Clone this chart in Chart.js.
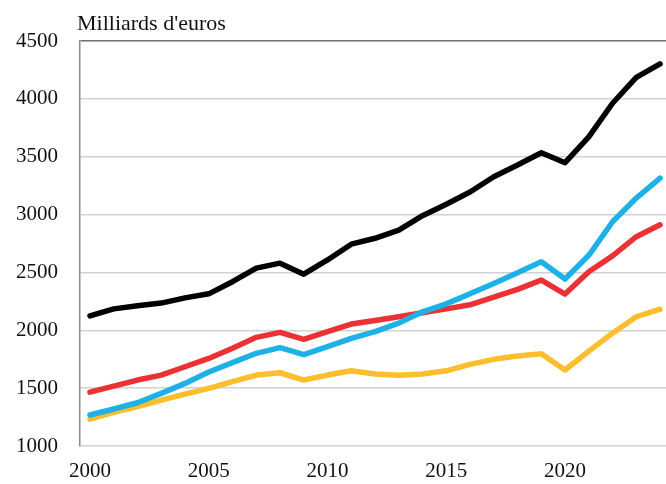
<!DOCTYPE html>
<html>
<head>
<meta charset="utf-8">
<script src="https://cdn.jsdelivr.net/npm/chart.js@4/dist/chart.umd.min.js"></script>
<style>
  html, body { margin: 0; padding: 0; background: #ffffff; }
  #wrap { width: 666px; height: 484px; position: relative; }
</style>
</head>
<body>
<div id="wrap"><canvas id="c" width="666" height="484"></canvas></div>
<script>
const years = [2000,2001,2002,2003,2004,2005,2006,2007,2008,2009,2010,2011,2012,2013,2014,2015,2016,2017,2018,2019,2020,2021,2022,2023,2024];
const blackSeries  = [2125,2185,2212,2235,2280,2315,2420,2537,2580,2485,2608,2744,2795,2866,2990,3090,3195,3327,3428,3534,3448,3672,3962,4185,4302];
const blueSeries   = [1268,1320,1374,1455,1541,1640,1720,1801,1850,1790,1858,1930,1988,2062,2160,2228,2315,2405,2497,2592,2443,2648,2938,3143,3315];
const redSeries    = [1465,1518,1570,1613,1685,1757,1845,1939,1982,1922,1988,2054,2085,2117,2152,2185,2220,2286,2354,2434,2313,2506,2643,2809,2912];
const yellowSeries = [1232,1290,1340,1397,1449,1498,1556,1613,1633,1570,1613,1650,1622,1611,1622,1650,1705,1749,1778,1797,1657,1820,1975,2117,2182];
const yTicks = [1000,1500,2000,2500,3000,3500,4000,4500];
const xTicks = [2000,2005,2010,2015,2020];
const unitLabel = "Milliards d'euros";

const FONT = "'Liberation Serif', 'Times New Roman', serif";

function pts(arr) { return years.map((y, i) => ({ x: y, y: arr[i] })); }
function ds(arr, color) {
  return {
    data: pts(arr), borderColor: color, backgroundColor: color,
    borderWidth: 5.5, pointRadius: 0, tension: 0,
    borderJoinStyle: 'round', borderCapStyle: 'round', fill: false
  };
}

const titlePlugin = {
  id: 'unitTitle',
  afterDraw(chart) {
    const ctx = chart.ctx;
    ctx.save();
    ctx.font = "22px " + FONT;
    ctx.fillStyle = '#111111';
    ctx.textAlign = 'left';
    ctx.textBaseline = 'alphabetic';
    ctx.fillText(unitLabel, chart.chartArea.left - 3, 30);
    ctx.restore();
  }
};

new Chart(document.getElementById('c'), {
  type: 'line',
  data: {
    datasets: [
      ds(blackSeries, '#000000'),
      ds(blueSeries, '#1eb1e7'),
      ds(redSeries, '#eb3133'),
      ds(yellowSeries, '#fcbe2c')
    ]
  },
  options: {
    responsive: false,
    animation: false,
    devicePixelRatio: 1,
    layout: { padding: { left: 14, right: 0, top: 41, bottom: 0 } },
    plugins: { legend: { display: false }, tooltip: { enabled: false }, title: { display: false } },
    scales: {
      x: {
        type: 'linear',
        min: 1999.58,
        max: 2024.25,
        afterBuildTicks(axis) { axis.ticks = xTicks.map(v => ({ value: v })); },
        afterFit(axis) { axis.height = 38; },
        ticks: {
          font: { family: FONT, size: 21 },
          color: '#111111',
          padding: 13,
          maxRotation: 0,
          callback: v => String(v)
        },
        grid: { display: false, drawTicks: false },
        border: { display: false }
      },
      y: {
        min: 1000,
        max: 4500,
        afterBuildTicks(axis) { axis.ticks = yTicks.map(v => ({ value: v })); },
        afterFit(axis) { axis.width = 66; },
        ticks: {
          font: { family: FONT, size: 21 },
          color: '#111111',
          padding: 22,
          callback: v => String(v)
        },
        grid: {
          drawTicks: false,
          lineWidth: 1.5,
          color: ctx => (ctx.tick && ctx.tick.value === 4500) ? '#6e6e6e' : '#d2d2d2'
        },
        border: { display: true, color: '#8a8a8a', width: 1.5 }
      }
    }
  },
  plugins: [titlePlugin]
});
</script>
</body>
</html>
